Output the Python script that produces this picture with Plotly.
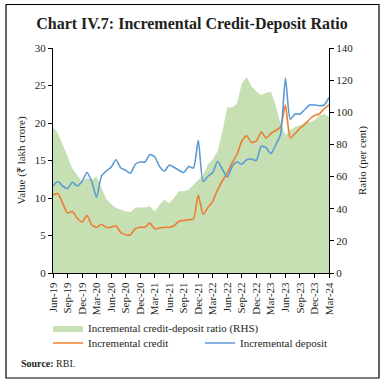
import plotly.graph_objects as go

months = ["Jun-19","Jul-19","Aug-19","Sep-19","Oct-19","Nov-19","Dec-19","Jan-20","Feb-20","Mar-20",
          "Apr-20","May-20","Jun-20","Jul-20","Aug-20","Sep-20","Oct-20","Nov-20","Dec-20","Jan-21",
          "Feb-21","Mar-21","Apr-21","May-21","Jun-21","Jul-21","Aug-21","Sep-21","Oct-21","Nov-21",
          "Dec-21","Jan-22","Feb-22","Mar-22","Apr-22","May-22","Jun-22","Jul-22","Aug-22","Sep-22",
          "Oct-22","Nov-22","Dec-22","Jan-23","Feb-23","Mar-23","Apr-23","May-23","Jun-23","Jul-23",
          "Aug-23","Sep-23","Oct-23","Nov-23","Dec-23","Jan-24","Feb-24","Mar-24"]

credit = [10.4,10.6,9.3,8.0,8.2,7.3,6.8,7.7,6.4,6.1,
          6.5,6.1,6.1,6.3,5.4,5.1,5.1,5.9,6.1,6.1,
          6.65,5.9,6.0,6.1,6.1,6.3,6.9,7.0,7.1,7.2,
          10.4,7.8,8.75,9.55,11.1,12.3,13.35,14.7,15.8,17.6,
          18.3,17.4,17.6,18.8,18.0,18.6,19.0,19.5,22.4,18.0,
          18.6,19.3,19.8,20.5,21.0,21.2,21.9,22.4]

deposit = [11.6,12.2,11.6,11.25,12.1,11.6,12.2,13.4,12.2,10.1,
           12.9,13.6,14.1,15.1,14.0,13.7,13.3,14.5,14.8,14.8,
           15.8,15.5,14.2,13.6,14.4,14.1,13.7,13.4,14.2,14.0,
           17.7,12.2,12.9,13.4,14.9,13.8,12.8,14.2,14.8,14.5,
           15.1,15.2,15.0,16.9,16.7,15.9,17.1,18.5,26.0,20.5,
           21.2,21.2,21.8,22.4,22.4,22.3,22.4,23.4]

ratio = [91,87,80,72,65,61,57,59,58,60,
         53,46,43,40.5,39.5,38.3,38,40.8,40.8,40.8,
         41.5,38.3,42.5,45.6,43.4,46.7,50.8,50.8,51.8,55,
         58,61,67.5,70.6,75.8,88.3,103,103,105.5,118,
         122,116,113,110.7,112,113,104,93,86,89,
         91,92,94,94,95,98,99,97]

tick_labels = months[::3]

serif = "Liberation Serif"
txt = "#231F20"

fig = go.Figure()
# ratio on primary y (drawn underneath), shown on the right side
fig.add_trace(go.Scatter(x=months, y=ratio, yaxis="y", name="Incremental credit-deposit ratio (RHS)",
                         mode="lines", fill="tozeroy", fillcolor="#C6E0B4",
                         line=dict(width=0, color="#C6E0B4"), legend="legend2"))
fig.add_trace(go.Scatter(x=months, y=credit, yaxis="y2", name="Incremental credit", mode="lines",
                         line=dict(color="#ED7D31", width=1.6, shape="spline", smoothing=0.6)))
fig.add_trace(go.Scatter(x=months, y=deposit, yaxis="y2", name="Incremental deposit", mode="lines",
                         line=dict(color="#5B9BD5", width=1.6, shape="spline", smoothing=0.6)))

axis_common = dict(showline=True, linecolor="black", linewidth=1, ticks="outside", ticklen=4,
                   tickcolor="black", showgrid=False, zeroline=False,
                   tickfont=dict(family=serif, size=11, color=txt))

fig.update_layout(
    width=384, height=384,
    margin=dict(l=53, r=55, t=48, b=111),
    paper_bgcolor="white", plot_bgcolor="white",
    showlegend=True,
    title=dict(text="Chart IV.7: Incremental Credit-Deposit Ratio", x=0.5, xanchor="center",
               y=1 - 23/384, yanchor="middle", font=dict(family=serif, size=16, color=txt, weight="bold")),
    xaxis=dict(axis_common, type="category", range=[0, len(months) - 1], tickvals=tick_labels,
               ticktext=tick_labels, tickangle=-90),
    yaxis=dict(axis_common, range=[0, 140], dtick=20, side="right",
               title=dict(text="Ratio (per cent)", font=dict(family=serif, size=11, color=txt), standoff=6)),
    yaxis2=dict(axis_common, range=[0, 30], dtick=5, overlaying="y", side="left",
                title=dict(text="Value (₹ lakh crore)", font=dict(family=serif, size=11, color=txt), standoff=6)),
    legend=dict(orientation="h", x=-0.018, xanchor="left", y=(273 - 343) / 225, yanchor="middle",
                font=dict(family=serif, size=11, color=txt), entrywidth=107, entrywidthmode="pixels",
                bgcolor="rgba(0,0,0,0)"),
    legend2=dict(orientation="h", x=-0.018, xanchor="left", y=(273 - 328) / 225, yanchor="middle",
                 font=dict(family=serif, size=11, color=txt), bgcolor="rgba(0,0,0,0)"),
    shapes=[dict(type="rect", xref="paper", yref="paper",
                 x0=(6 - 53) / 276, x1=(379 - 53) / 276, y0=(273 - 378) / 225, y1=(273 - 4.5) / 225,
                 line=dict(color="black", width=1.2), fillcolor="rgba(0,0,0,0)", layer="below")],
    annotations=[dict(text="<b>Source:</b> RBI.", xref="paper", yref="paper",
                      x=(19 - 53) / 276, y=(273 - 363) / 225, xanchor="left", yanchor="middle",
                      showarrow=False, font=dict(family=serif, size=10, color=txt))],
)

fig.write_html("out.html", config={"displayModeBar": False},
               post_script="document.body.style.margin='0';document.body.style.overflow='hidden';")
